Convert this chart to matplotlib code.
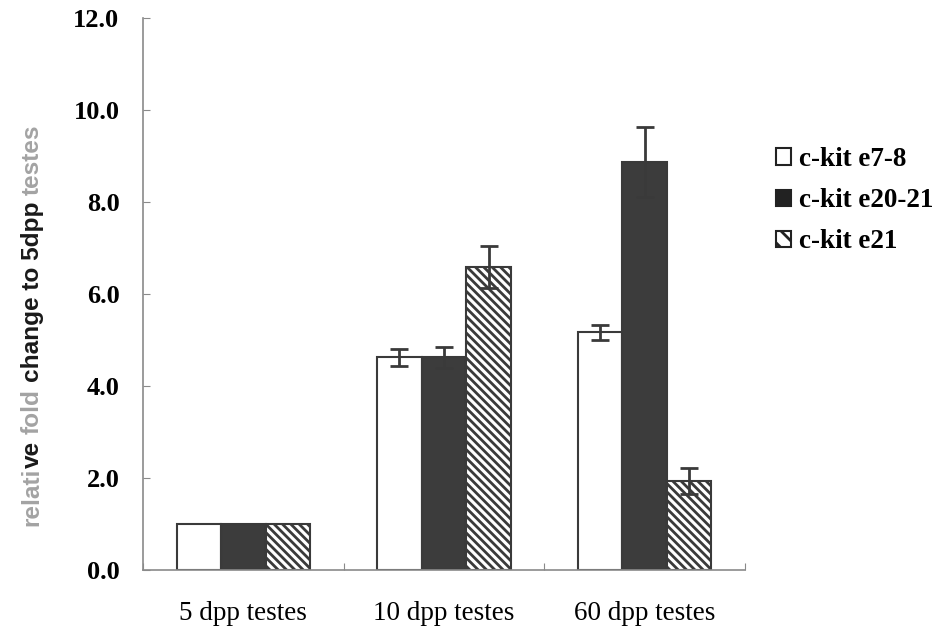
import matplotlib
matplotlib.use("Agg")
import matplotlib.pyplot as plt
from matplotlib.patches import Patch
import numpy as np

categories = ["5 dpp testes", "10 dpp testes", "60 dpp testes"]
series_names = ["c-kit e7-8", "c-kit e20-21", "c-kit e21"]
e7_8 = [1.0, 4.62, 5.17]
e7_8_err = [0.0, 0.18, 0.16]
e20_21 = [1.0, 4.62, 8.87]
e20_21_err = [0.0, 0.22, 0.76]
e21 = [1.0, 6.59, 1.94]
e21_err = [0.0, 0.45, 0.28]
yticks = [0, 2, 4, 6, 8, 10, 12]

plt.rcParams['hatch.linewidth'] = 2.0
plt.rcParams['hatch.color'] = '#2e2e2e'

fig = plt.figure(figsize=(9.46, 6.31), dpi=100)
ax = fig.add_axes([143/946, 1-570/631, (745-143)/946, (570-18)/631])

dark = '#3c3c3c'
edge = '#3a3a3a'
x = np.arange(len(categories))
w = 0.222
err_kw = dict(fmt='none', ecolor='#3a3a3a', elinewidth=2.0, capsize=6.5,
              capthick=2.0, zorder=3)

series = [(e7_8, e7_8_err, -w, dict(color='white')),
          (e20_21, e20_21_err, 0.0, dict(color=dark)),
          (e21, e21_err, w, dict(color='white', hatch='\\\\\\\\'))]
for vals, errs, off, style in series:
    ax.bar(x + off, vals, w, edgecolor=edge, linewidth=1.5, zorder=2, **style)
    vals = np.asarray(vals)
    errs = np.asarray(errs)
    m = errs > 0
    ax.errorbar(x[m] + off, vals[m], yerr=errs[m], **err_kw)

ax.set_xlim(-0.5, 2.5)
ax.set_ylim(0, 12)

for s in ['top', 'right']:
    ax.spines[s].set_visible(False)
for s in ['left', 'bottom']:
    ax.spines[s].set_color('#8a8a8a')
    ax.spines[s].set_linewidth(1.2)

ax.set_yticks(yticks)
ax.set_yticklabels([f"{v:.1f}" for v in yticks], fontfamily='Liberation Serif',
                   fontweight='bold', fontsize=19)
ax.tick_params(axis='y', direction='in', length=5, color='#8a8a8a', pad=17)

ax.set_xticks([-0.5, 0.5, 1.5, 2.5])
ax.set_xticklabels([])
ax.tick_params(axis='x', which='major', direction='in', length=5, color='#8a8a8a')
ax.set_xticks(x, minor=True)
ax.set_xticklabels(categories, minor=True, fontfamily='Liberation Serif', fontsize=19.5)
ax.tick_params(axis='x', which='minor', length=0, pad=22)

# y label in pieces (faded scan parts in gray)
gray = '#a3a3a3'
black = '#1a1a1a'
pieces = [("relati", gray, 0), ("ve", black, 0), ("fold", gray, 4.9),
          ("change to 5dpp", black, 4.9), ("testes", gray, 4.9)]
lab_kw = dict(rotation=90, ha='center', va='bottom', fontfamily='Liberation Sans',
              fontweight='bold', fontsize=17.6)
prev = fig.text(32/946, 1-526/631, pieces[0][0], color=pieces[0][1], **lab_kw)
for txt, col, gap in pieces[1:]:
    prev = ax.annotate(txt, xy=(0.5, 1), xycoords=prev, xytext=(0, gap),
                       textcoords='offset points', color=col,
                       annotation_clip=False, **lab_kw)

handles = [Patch(facecolor='white', edgecolor='#222222', linewidth=1.5),
           Patch(facecolor='#222222', edgecolor='#222222', linewidth=1.5),
           Patch(facecolor='white', edgecolor='#222222', linewidth=1.5, hatch='\\\\')]
fig.legend(handles, series_names, loc='upper left', bbox_to_anchor=(776/946, 1-147/631),
           frameon=False, borderpad=0, borderaxespad=0, handlelength=0.55,
           handleheight=0.55, handletextpad=0.3, labelspacing=0.6,
           prop=dict(family='Liberation Serif', weight='bold', size=19.5))

fig.savefig("out.png", dpi=100)
